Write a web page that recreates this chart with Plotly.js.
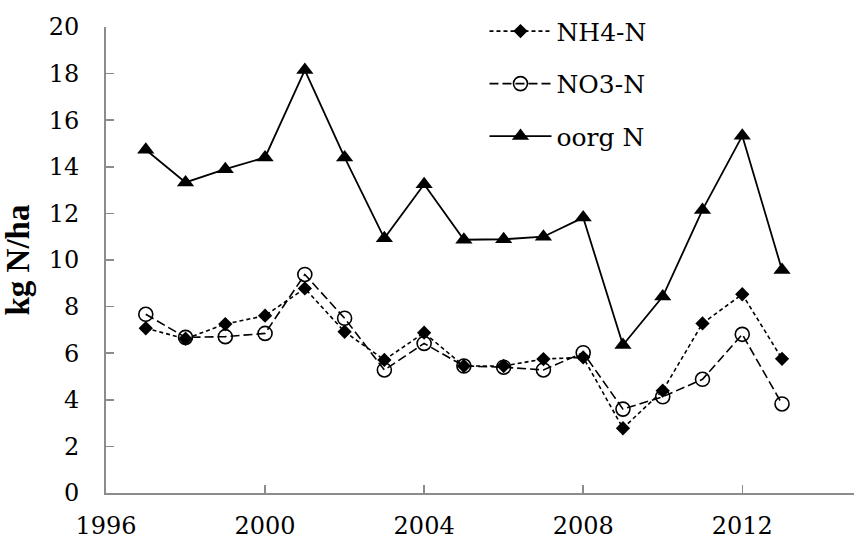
<!DOCTYPE html>
<html>
<head>
<meta charset="utf-8">
<script src="https://cdn.plot.ly/plotly-3.0.1.min.js"></script>
<style>html,body{margin:0;padding:0;background:#fff;overflow:hidden;}</style>
</head>
<body>
<div id="chart" style="width:854px;height:543px;"></div>
<script>
var years = [1997,1998,1999,2000,2001,2002,2003,2004,2005,2006,2007,2008,2009,2010,2011,2012,2013];
var nh4 = [7.07,6.62,7.25,7.61,8.78,6.92,5.71,6.88,5.45,5.45,5.75,5.82,2.78,4.39,7.28,8.53,5.76];
var no3 = [7.67,6.68,6.71,6.85,9.38,7.5,5.28,6.42,5.45,5.4,5.28,6.02,3.6,4.13,4.88,6.81,3.82];
var oorg = [14.73,13.33,13.9,14.4,18.15,14.4,10.93,13.25,10.87,10.89,11.0,11.82,6.35,8.43,12.15,15.33,9.57];
var names = ['NH4-N','NO3-N','oorg N'];

var fontFam = 'DejaVu Serif, serif';
var titleFam = 'Liberation Serif, serif';
var traces = [
  {x: years, y: nh4, name: names[0], mode: 'lines+markers', legendgroup: 'a',
   line: {color: '#000', width: 1.6, dash: '4px,3px'},
   marker: {symbol: 'diamond', size: 11, color: '#000'}},
  {x: years, y: no3, name: names[1], mode: 'lines+markers', legendgroup: 'b',
   line: {color: '#000', width: 1.6, dash: '9px,4px'},
   marker: {symbol: 'circle-open', size: 14, color: '#000', line: {width: 1.6}}},
  {x: years, y: oorg, name: names[2], mode: 'lines+markers', legendgroup: 'c',
   line: {color: '#000', width: 1.8},
   marker: {symbol: 'triangle-up', size: 15, color: '#000'}}
];

var layout = {
  width: 854, height: 543,
  margin: {l: 106, r: 0, t: 27, b: 50},
  paper_bgcolor: '#fff', plot_bgcolor: '#fff',
  font: {family: fontFam, color: '#000', size: 24},
  showlegend: true,
  legend: {x: 0.506, xanchor: 'left', y: 1.04, yanchor: 'top',
           font: {family: fontFam, size: 25, color: '#000'},
           itemwidth: 62, tracegroupgap: 17, bgcolor: 'rgba(0,0,0,0)'},
  xaxis: {range: [1996, 2014.81], tick0: 1996, dtick: 4, showgrid: false, zeroline: false,
          showline: true, linecolor: '#8c8c8c', linewidth: 2,
          ticks: 'inside', ticklen: 8, tickcolor: '#8c8c8c', tickwidth: 1.5,
          ticklabelstandoff: 10,
          tickfont: {family: fontFam, size: 24, color: '#000'}},
  yaxis: {range: [0, 20], dtick: 2, showgrid: false, zeroline: false,
          showline: true, linecolor: '#8c8c8c', linewidth: 2,
          ticks: 'inside', ticklen: 8, tickcolor: '#8c8c8c', tickwidth: 1.5,
          ticklabelstandoff: 20,
          tickfont: {family: fontFam, size: 24, color: '#000'}}
};
layout.yaxis.title = {text: '<b>kg N/ha</b>', standoff: 16,
                      font: {family: titleFam, size: 33, color: '#000'}};

Plotly.newPlot('chart', traces, layout, {displayModeBar: false, staticPlot: true});
</script>
</body>
</html>
